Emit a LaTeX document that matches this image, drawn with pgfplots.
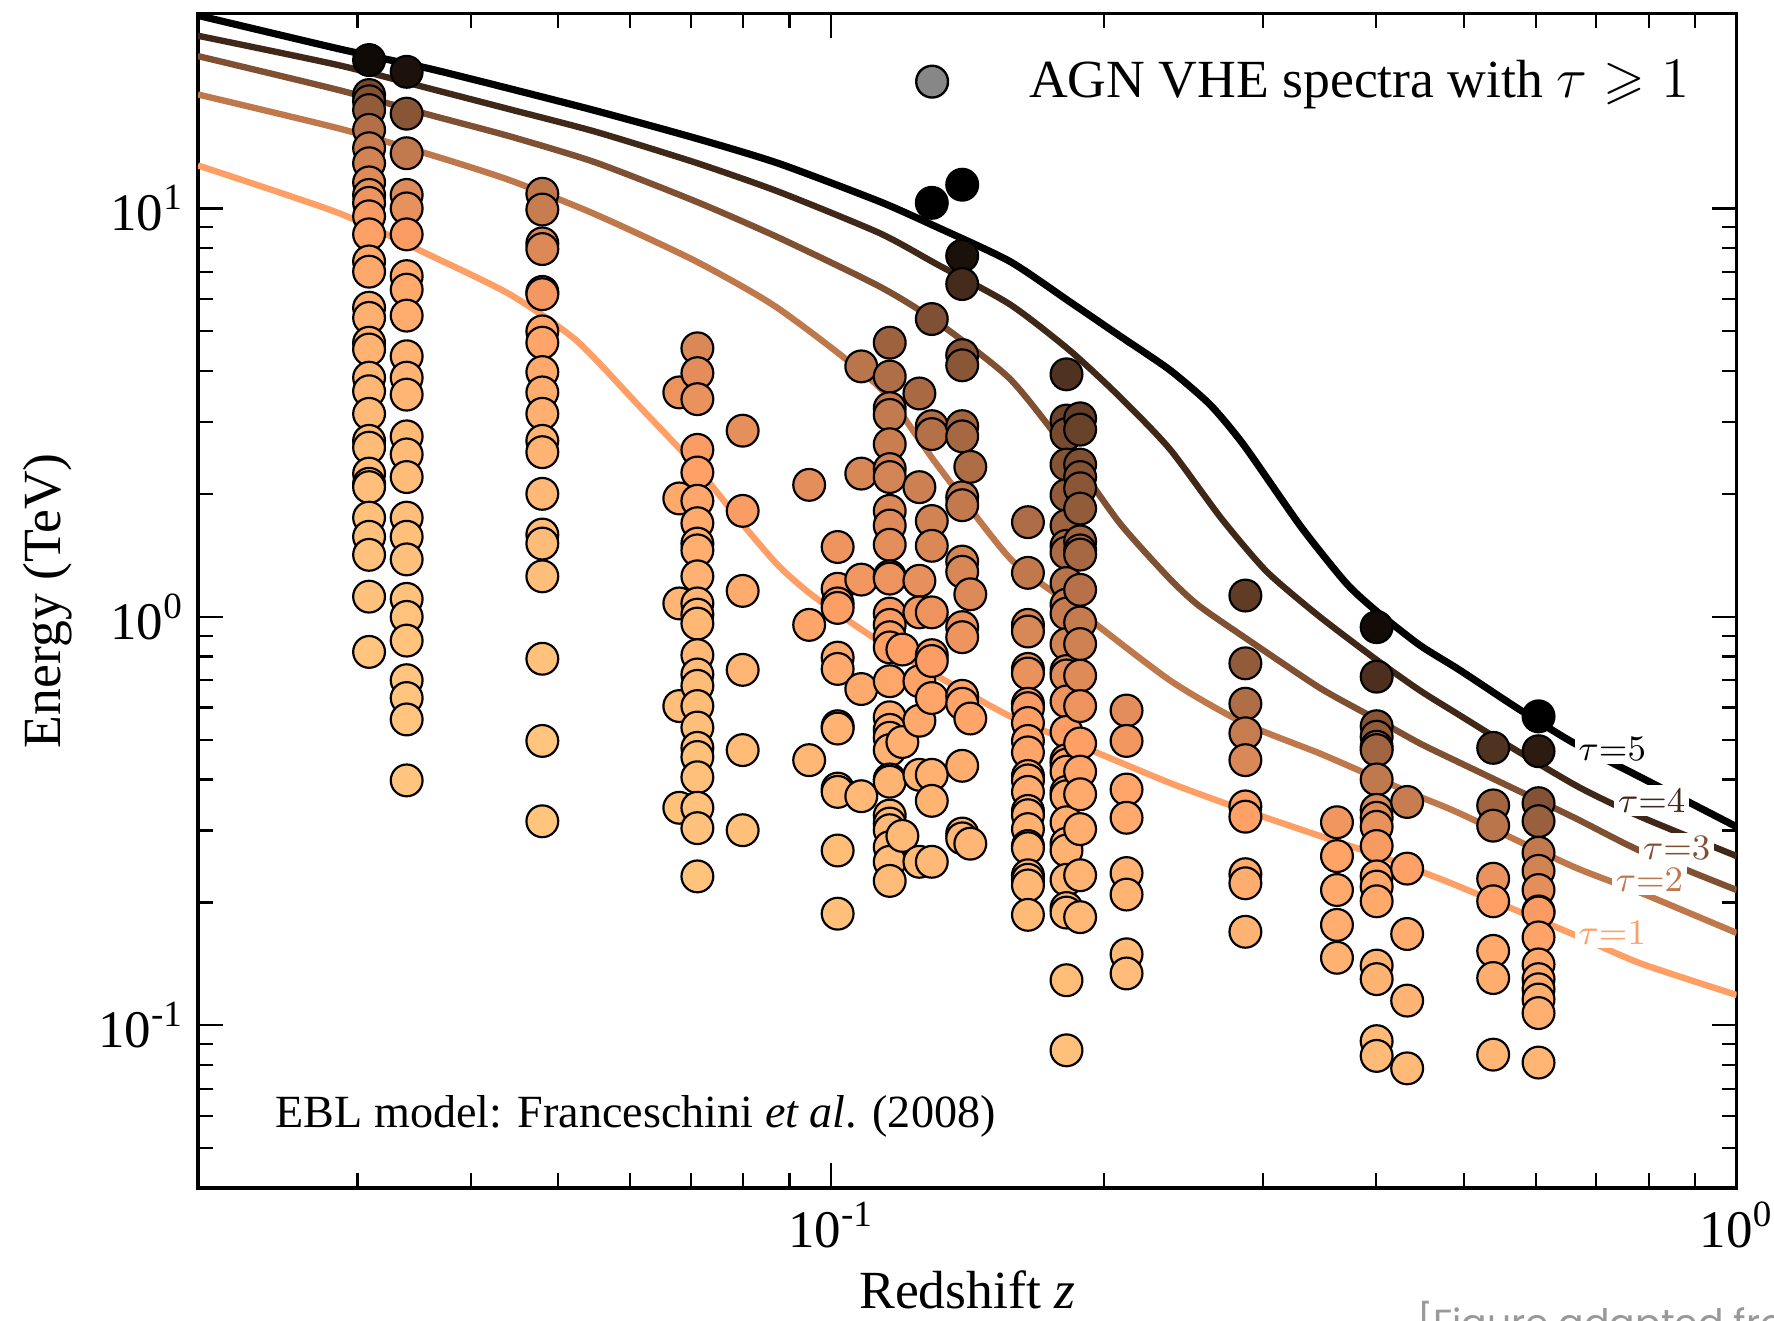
\documentclass[border=0pt]{standalone}
\usepackage{pgfplots}
\pgfplotsset{compat=1.18}
\usepackage{pgfplotstable}
\usepackage{amssymb}
\usepackage{fontspec}
\setmainfont{Liberation Serif}
\newfontfamily\credfont{Poppins}

\definecolor{tauone}{rgb}{1,0.625,0.398}
\definecolor{tautwo}{rgb}{0.75,0.46875,0.2985}
\definecolor{tauthree}{rgb}{0.5,0.3125,0.199}
\definecolor{taufour}{rgb}{0.25,0.15625,0.0995}
\definecolor{legendgray}{rgb}{0.53,0.53,0.53}

\pgfplotstableread{
z E
0.02 29.68
0.02858 24.60
0.03598 22.00
0.04416 19.65
0.05495 17.35
0.07099 14.84
0.08760 12.88
0.1132 10.39
0.1307 9.016
0.1576 7.418
0.1836 5.905
0.2084 4.873
0.2365 4.027
0.2622 3.307
0.2858 2.630
0.3303 1.663
0.3705 1.210
0.4004 1.032
0.4467 0.853
0.4941 0.742
0.5705 0.601
0.6588 0.4934
0.7829 0.4053
1.0 0.3063
}\taufive

\pgfplotstableread{
z E
0.02 26.47
0.02858 22.43
0.03598 19.68
0.04416 17.49
0.05495 15.41
0.07099 12.93
0.08760 10.98
0.1132 8.697
0.1307 7.313
0.1576 5.823
0.1836 4.487
0.2084 3.457
0.2365 2.580
0.2699 1.740
0.3029 1.290
0.3467 1.000
0.4004 0.785
0.4467 0.661
0.4941 0.575
0.5705 0.472
0.6704 0.3826
0.7829 0.3243
1.0 0.2597
}\taufour

\pgfplotstableread{
z E
0.02 23.60
0.02858 19.50
0.03598 16.96
0.04416 15.02
0.05495 12.96
0.07099 10.39
0.08760 8.477
0.1132 6.436
0.1307 5.289
0.1576 3.827
0.1836 2.507
0.2084 1.696
0.2365 1.241
0.2547 1.066
0.2858 0.8929
0.3467 0.6698
0.4004 0.5614
0.4467 0.4904
0.4941 0.4401
0.6588 0.3241
0.7829 0.2674
1.0 0.2145
}\tauthree

\pgfplotstableread{
z E
0.02 19.01
0.02858 15.71
0.03598 13.57
0.04416 11.73
0.05495 9.669
0.07099 7.418
0.08760 5.677
0.1132 3.641
0.1307 2.371
0.1576 1.392
0.1836 1.075
0.2365 0.7003
0.2858 0.5494
0.3467 0.4630
0.4004 0.4029
0.4467 0.3630
0.4941 0.3307
0.6588 0.2452
0.7829 0.2114
1.0 0.1684
}\tautwo

\pgfplotstableread{
z E
0.02 12.74
0.02858 9.750
0.03598 7.702
0.04416 6.167
0.05234 4.751
0.0618 3.232
0.07099 2.330
0.0799 1.685
0.0876 1.331
0.09578 1.121
0.1132 0.8695
0.1307 0.7184
0.1576 0.5714
0.1836 0.4961
0.2365 0.3926
0.2858 0.3366
0.3467 0.2909
0.4004 0.2615
0.4467 0.2387
0.4941 0.2187
0.6588 0.1674
0.7829 0.1419
1.0 0.1187
}\tauone

\pgfplotstableread{
z E t
0.0309 23.08 4.74
0.0309 18.95 3.13
0.0309 18.30 2.92
0.0309 17.41 2.70
0.0309 15.57 2.19
0.0309 14.04 1.88
0.0309 12.90 1.71
0.0309 11.58 1.50
0.0309 10.79 1.36
0.0309 10.32 1.27
0.0309 9.565 1.12
0.0309 8.640 0.96
0.0309 7.418 0.82
0.0309 7.002 0.78
0.0309 5.714 0.63
0.0309 5.395 0.60
0.0309 4.691 0.52
0.0309 4.515 0.50
0.0309 3.852 0.43
0.0309 3.568 0.40
0.0309 3.142 0.35
0.0309 2.698 0.30
0.0309 2.596 0.29
0.0309 2.243 0.25
0.0309 2.118 0.24
0.0309 2.078 0.23
0.0309 1.750 0.19
0.0309 1.571 0.17
0.0309 1.419 0.16
0.0309 1.121 0.12
0.0309 0.821 0.09
0.0340 21.60 4.56
0.0340 17.06 2.87
0.0340 13.65 1.95
0.0340 10.79 1.51
0.0340 10.00 1.37
0.0340 8.640 1.10
0.0340 6.828 0.84
0.0340 6.326 0.77
0.0340 5.465 0.67
0.0340 4.346 0.53
0.0340 3.852 0.47
0.0340 3.501 0.43
0.0340 2.767 0.34
0.0340 2.499 0.31
0.0340 2.200 0.27
0.0340 1.750 0.21
0.0340 1.571 0.19
0.0340 1.383 0.17
0.0340 1.107 0.14
0.0340 1.000 0.12
0.0340 0.875 0.11
0.0340 0.700 0.09
0.0340 0.633 0.08
0.0340 0.561 0.07
0.0340 0.398 0.05
0.0480 10.86 2.00
0.0480 9.937 1.87
0.0480 8.211 1.59
0.0480 7.954 1.55
0.0480 6.246 1.20
0.0480 6.167 1.18
0.0480 4.999 0.92
0.0480 4.691 0.86
0.0480 3.976 0.73
0.0480 3.545 0.65
0.0480 3.142 0.58
0.0480 2.698 0.50
0.0480 2.531 0.47
0.0480 2.001 0.37
0.0480 1.591 0.29
0.0480 1.512 0.28
0.0480 1.257 0.23
0.0480 0.790 0.15
0.0480 0.497 0.09
0.0480 0.316 0.06
0.0680 3.545 1.30
0.0680 1.950 0.77
0.0680 1.079 0.43
0.0680 0.605 0.24
0.0680 0.341 0.14
0.0712 4.545 1.58
0.0712 3.952 1.46
0.0712 3.413 1.33
0.0712 2.564 1.08
0.0712 2.257 0.97
0.0712 1.925 0.83
0.0712 1.696 0.73
0.0712 1.512 0.65
0.0712 1.455 0.62
0.0712 1.257 0.54
0.0712 1.079 0.46
0.0712 1.013 0.43
0.0712 0.963 0.41
0.0712 0.806 0.35
0.0712 0.723 0.31
0.0712 0.678 0.29
0.0712 0.605 0.26
0.0712 0.536 0.23
0.0712 0.478 0.21
0.0712 0.454 0.19
0.0712 0.405 0.17
0.0712 0.341 0.15
0.0712 0.304 0.13
0.0712 0.2316 0.10
0.0799 2.857 1.40
0.0799 1.818 1.07
0.0799 1.158 0.70
0.0799 0.742 0.45
0.0799 0.472 0.29
0.0799 0.3005 0.18
0.0946 2.105 1.42
0.0946 0.956 0.85
0.0946 0.446 0.40
0.1017 1.483 1.26
0.1017 1.172 1.10
0.1017 1.079 1.04
0.1017 1.052 1.03
0.1017 0.795 0.79
0.1017 0.746 0.74
0.1017 0.540 0.53
0.1017 0.533 0.52
0.1017 0.380 0.38
0.1017 0.373 0.37
0.1017 0.268 0.26
0.1017 0.1877 0.19
0.108 4.105 2.07
0.108 2.243 1.61
0.108 1.234 1.20
0.108 0.666 0.72
0.108 0.364 0.39
0.1161 4.691 2.54
0.1161 3.877 2.23
0.1161 3.244 1.97
0.1161 3.122 1.94
0.1161 2.647 1.83
0.1161 2.301 1.72
0.1161 2.200 1.69
0.1161 1.818 1.56
0.1161 1.674 1.50
0.1161 1.502 1.42
0.1161 1.257 1.29
0.1161 1.241 1.28
0.1161 1.019 1.14
0.1161 0.956 1.09
0.1161 0.892 1.04
0.1161 0.842 1.00
0.1161 0.696 0.83
0.1161 0.568 0.67
0.1161 0.529 0.63
0.1161 0.506 0.60
0.1161 0.472 0.56
0.1161 0.400 0.48
0.1161 0.395 0.47
0.1161 0.3264 0.39
0.1161 0.312 0.37
0.1161 0.3005 0.36
0.1161 0.2732 0.32
0.1161 0.2515 0.30
0.1161 0.2258 0.27
0.1199 0.832 1.02
0.1199 0.494 0.61
0.1199 0.291 0.36
0.1252 3.524 2.36
0.1252 2.078 1.79
0.1252 1.226 1.38
0.1252 1.026 1.24
0.1252 0.696 0.91
0.1252 0.557 0.73
0.1252 0.4106 0.54
0.1252 0.2515 0.33
0.1292 10.32 5.0
0.1292 5.361 3.00
0.1292 2.931 2.23
0.1292 2.803 2.17
0.1292 1.717 1.71
0.1292 1.493 1.59
0.1292 1.026 1.28
0.1292 0.806 1.08
0.1292 0.780 1.06
0.1292 0.633 0.87
0.1292 0.4106 0.56
0.1292 0.3546 0.49
0.1292 0.2515 0.35
0.1396 11.43 5.0
0.1396 7.656 4.57
0.1396 6.530 3.91
0.1396 4.374 2.91
0.1396 4.130 2.85
0.1396 2.931 2.46
0.1396 2.767 2.39
0.1396 1.963 2.00
0.1396 1.877 1.96
0.1396 1.366 1.67
0.1396 1.290 1.61
0.1396 0.944 1.33
0.1396 0.892 1.27
0.1396 0.641 0.97
0.1396 0.613 0.92
0.1396 0.432 0.65
0.1396 0.2949 0.44
0.1396 0.287 0.43
0.1425 2.330 2.25
0.1425 1.136 1.54
0.1425 0.564 0.87
0.1425 0.2785 0.43
0.1650 1.706 2.29
0.1650 1.282 1.99
0.1650 0.956 1.65
0.1650 0.921 1.61
0.1650 0.746 1.36
0.1650 0.727 1.33
0.1650 0.613 1.13
0.1650 0.598 1.10
0.1650 0.550 1.00
0.1650 0.497 0.91
0.1650 0.466 0.85
0.1650 0.408 0.74
0.1650 0.398 0.73
0.1650 0.373 0.68
0.1650 0.335 0.61
0.1650 0.327 0.60
0.1650 0.3024 0.55
0.1650 0.2749 0.50
0.1650 0.2715 0.50
0.1650 0.2331 0.43
0.1650 0.2273 0.42
0.1650 0.2201 0.40
0.1650 0.1865 0.34
0.1820 3.926 3.74
0.1820 3.025 3.29
0.1820 2.803 3.15
0.1820 2.360 2.90
0.1820 1.988 2.70
0.1820 1.674 2.50
0.1820 1.493 2.37
0.1820 1.437 2.32
0.1820 1.210 2.12
0.1820 1.072 1.98
0.1820 1.019 1.91
0.1820 0.858 1.69
0.1820 0.737 1.50
0.1820 0.719 1.47
0.1820 0.621 1.28
0.1820 0.523 1.06
0.1820 0.446 0.89
0.1820 0.435 0.87
0.1820 0.418 0.84
0.1820 0.373 0.75
0.1820 0.364 0.73
0.1820 0.3143 0.63
0.1820 0.2785 0.56
0.1820 0.268 0.54
0.1820 0.2272 0.46
0.1820 0.1938 0.39
0.1820 0.1889 0.38
0.1820 0.1290 0.26
0.1820 0.0869 0.18
0.1884 3.063 3.46
0.1884 2.874 3.35
0.1884 2.360 3.02
0.1884 2.200 2.93
0.1884 2.065 2.85
0.1884 1.842 2.71
0.1884 1.531 2.49
0.1884 1.455 2.42
0.1884 1.421 2.39
0.1884 1.165 2.15
0.1884 0.969 1.92
0.1884 0.858 1.76
0.1884 0.718 1.52
0.1884 0.605 1.30
0.1884 0.490 1.02
0.1884 0.418 0.86
0.1884 0.368 0.76
0.1884 0.3024 0.63
0.1884 0.2331 0.48
0.1884 0.1841 0.38
0.2120 0.590 1.46
0.2120 0.497 1.20
0.2120 0.378 0.87
0.2120 0.3223 0.74
0.2120 0.2360 0.54
0.2120 0.2091 0.48
0.2120 0.1493 0.34
0.2120 0.1340 0.31
0.2868 1.128 3.49
0.2868 0.770 2.70
0.2868 0.613 2.23
0.2868 0.519 1.89
0.2868 0.446 1.58
0.2868 0.3436 1.05
0.2868 0.3243 0.97
0.2868 0.2345 0.70
0.2868 0.2228 0.66
0.2868 0.1695 0.50
0.3620 0.3143 1.24
0.3620 0.2597 0.92
0.3620 0.2145 0.76
0.3620 0.1762 0.63
0.3620 0.1464 0.52
0.4004 0.944 4.71
0.4004 0.714 3.81
0.4004 0.540 2.88
0.4004 0.509 2.71
0.4004 0.481 2.54
0.4004 0.472 2.48
0.4004 0.400 1.98
0.4004 0.337 1.59
0.4004 0.3223 1.48
0.4004 0.3063 1.37
0.4004 0.2749 1.12
0.4004 0.2316 0.89
0.4004 0.2187 0.84
0.4004 0.2013 0.77
0.4004 0.1401 0.54
0.4004 0.1298 0.50
0.4004 0.0915 0.35
0.4004 0.0842 0.32
0.4327 0.3524 1.86
0.4327 0.242 0.99
0.4327 0.1674 0.68
0.4327 0.1150 0.47
0.4327 0.0785 0.32
0.5385 0.478 3.74
0.5385 0.3456 2.47
0.5385 0.3083 2.07
0.5385 0.2286 1.31
0.5385 0.2013 1.00
0.5385 0.1522 0.75
0.5385 0.1306 0.65
0.5385 0.0848 0.42
0.6043 0.571 5.0
0.6043 0.469 4.31
0.6043 0.350 2.95
0.6043 0.3162 2.59
0.6043 0.2647 1.97
0.6043 0.2390 1.71
0.6043 0.2145 1.43
0.6043 0.1901 1.12
0.6043 0.1890 1.10
0.6043 0.1642 0.91
0.6043 0.1410 0.78
0.6043 0.1298 0.72
0.6043 0.1226 0.68
0.6043 0.1157 0.64
0.6043 0.1072 0.59
0.6043 0.0811 0.45
}\agnpoints

\begin{document}
\begin{tikzpicture}
\begin{axis}[
  at={(0,0)}, anchor=south west,
  scale only axis, width=13.6cm, height=10.38cm,
  xmode=log, ymode=log,
  xmin=0.02, xmax=1, ymin=0.04, ymax=30,
  axis line style={line width=0.8pt},
  every tick/.style={black, line width=0.55pt},
  major tick length=0.22cm, minor tick length=0.13cm,
  tick align=inside,
  xticklabel={\pgfmathtruncatemacro{\myexp}{round(\tick/2.302585093)}10\textsuperscript{\myexp}},
  yticklabel={\pgfmathtruncatemacro{\myexp}{round(\tick/2.302585093)}10\textsuperscript{\myexp}},
  tick label style={font=\fontsize{13.3}{15}\selectfont},
  xlabel={Redshift \textit{z}},
  ylabel={Energy (TeV)},
  label style={font=\fontsize{13.5}{16}\selectfont},
  xlabel style={at={(axis description cs:0.5,-0.087)}, anchor=center},
  ylabel style={at={(axis description cs:-0.098,0.5)}, anchor=center},
  colormap={copperrev}{rgb=(1,0.7812,0.4975) rgb=(1,0.625,0.398) rgb=(0.75,0.46875,0.2985) rgb=(0.5,0.3125,0.199) rgb=(0.25,0.15625,0.0995) rgb=(0,0,0)},
  point meta min=0, point meta max=5,
  legend style={at={(axis description cs:0.4655,0.942)}, anchor=west, draw=none, fill=none,
    inner sep=0pt, font=\fontsize{13.5}{16}\selectfont},
  legend cell align=left,
]
\addlegendimage{legend image code/.code={\draw[black, line width=0.6pt, fill=legendgray] (0.14cm,0cm) circle (4pt); \path (0.92cm,0cm);}}
\addlegendentry{AGN VHE spectra with $\tau \geqslant 1$}

\addplot[tauone, line width=1.6pt, smooth, tension=0.4, line join=round] table[x=z, y=E] {\tauone};
\addplot[tautwo, line width=1.6pt, smooth, tension=0.4, line join=round] table[x=z, y=E] {\tautwo};
\addplot[tauthree, line width=1.6pt, smooth, tension=0.4, line join=round] table[x=z, y=E] {\tauthree};
\addplot[taufour, line width=1.6pt, smooth, tension=0.4, line join=round] table[x=z, y=E] {\taufour};
\addplot[black, line width=1.8pt, smooth, tension=0.4, line join=round] table[x=z, y=E] {\taufive};

\addplot[scatter, only marks, mark=*, mark size=4pt, scatter src=explicit,
  scatter/use mapped color={draw=black, fill=mapped color},
  mark options={line width=0.55pt}]
  table[x=z, y=E, meta=t] {\agnpoints};

\node[text=black, fill=white, inner sep=1pt, font=\fontsize{9}{10}\selectfont] at (axis cs:0.7289,0.475) {$\tau{=}5$};
\node[text=taufour, fill=white, inner sep=1pt, font=\fontsize{9}{10}\selectfont] at (axis cs:0.8058,0.3546) {$\tau{=}4$};
\node[text=tauthree, fill=white, inner sep=1pt, font=\fontsize{9}{10}\selectfont] at (axis cs:0.8586,0.2715) {$\tau{=}3$};
\node[text=tautwo, fill=white, inner sep=1pt, font=\fontsize{9}{10}\selectfont] at (axis cs:0.8012,0.2272) {$\tau{=}2$};
\node[text=tauone, fill=white, inner sep=1pt, font=\fontsize{9}{10}\selectfont] at (axis cs:0.7289,0.1684) {$\tau{=}1$};

\node[anchor=west, inner sep=0pt, font=\fontsize{11.6}{14}\selectfont] at (axis description cs:0.05,0.0607) {EBL model: Franceschini \textit{et al}. (2008)};
\end{axis}
\node[anchor=north west, inner sep=0pt, text=black!40, font=\credfont\fontsize{9.5}{11}\selectfont] at (10.77cm,-0.99cm) {[Figure adapted from};
\pgfresetboundingbox
\path[use as bounding box] (-1.75cm,-1.17cm) rectangle (13.93cm,10.50cm);
\end{tikzpicture}
\end{document}
